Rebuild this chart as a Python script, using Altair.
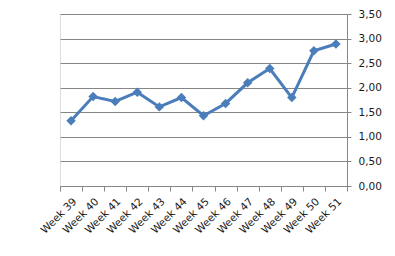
import altair as alt
import pandas as pd

weeks = ["Week 39", "Week 40", "Week 41", "Week 42", "Week 43", "Week 44", "Week 45",
         "Week 46", "Week 47", "Week 48", "Week 49", "Week 50", "Week 51"]
values = [1.33, 1.82, 1.72, 1.91, 1.61, 1.80, 1.43, 1.68, 2.10, 2.39, 1.80, 2.75, 2.89]
y_ticks = [0, 0.5, 1.0, 1.5, 2.0, 2.5, 3.0, 3.5]

df = pd.DataFrame({"week": weeks, "value": values})

FONT = "DejaVu Sans"
COLOR = "#4A7EBB"

x = alt.X("week:N", sort=weeks, title=None,
          scale=alt.Scale(type="band", paddingInner=0, paddingOuter=0),
          axis=alt.Axis(labelAngle=-45, labelAlign="right", labelBaseline="top",
                        labelFontSize=10.5, labelFont=FONT, labelColor="#1a1a1a",
                        tickBand="extent", tickSize=5, tickColor="#868686",
                        domainColor="#868686", grid=False, labelPadding=5,
                        labelOverlap=False))
y = alt.Y("value:Q", title=None,
          scale=alt.Scale(domain=[0, 3.5], nice=False),
          axis=alt.Axis(orient="right", values=y_ticks,
                        labelExpr="replace(format(datum.value, '.2f'), '.', ',')",
                        labelFontSize=10.5, labelFont=FONT, labelColor="#1a1a1a",
                        tickSize=4, tickColor="#868686", domainColor="#868686",
                        gridColor="#868686", gridWidth=1, labelPadding=7))

line = alt.Chart(df).mark_line(color=COLOR, strokeWidth=3).encode(x=x, y=y)
pts = alt.Chart(df).mark_point(shape="diamond", filled=True, size=90, color=COLOR, opacity=1).encode(x=x, y=y)

chart = (line + pts).properties(
    width=287, height=172,
    autosize=alt.AutoSizeParams(type="none"),
    padding={"left": 60, "top": 14, "right": 48, "bottom": 70},
).configure_view(stroke=None).configure(background="white")

chart.save("out.html", embed_options={"renderer": "svg", "actions": False})
